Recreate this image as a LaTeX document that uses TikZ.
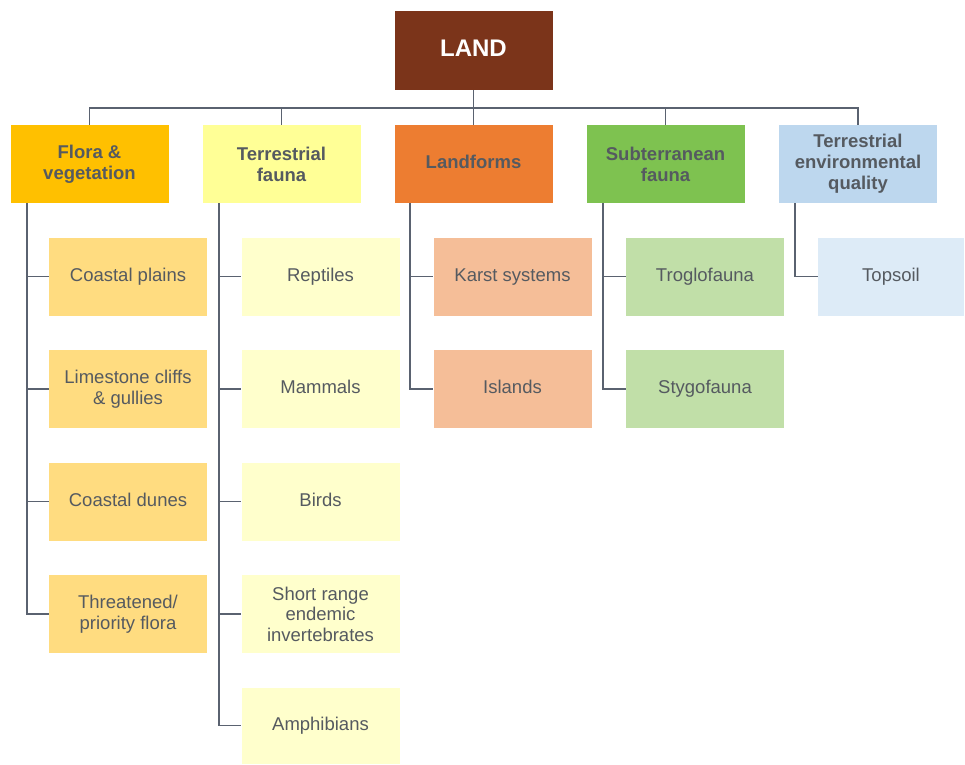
\documentclass[tikz,border=0pt]{standalone}
\usepackage{fontspec}
\setmainfont{Liberation Sans}
\begin{document}
\definecolor{txt}{RGB}{85,90,96}
\definecolor{wire}{RGB}{90,98,112}
\definecolor{landc}{RGB}{123,52,26}
\definecolor{florac}{RGB}{255,192,0}
\definecolor{faunac}{RGB}{255,255,150}
\definecolor{formc}{RGB}{237,125,49}
\definecolor{subc}{RGB}{126,194,80}
\definecolor{envc}{RGB}{189,215,238}
\definecolor{floral}{RGB}{255,220,128}
\definecolor{faunal}{RGB}{255,255,204}
\definecolor{forml}{RGB}{245,190,152}
\definecolor{subl}{RGB}{193,223,168}
\definecolor{envl}{RGB}{221,235,247}
\begin{tikzpicture}[x=1pt,y=-1pt,
  box/.style={draw=none,minimum width=158pt,minimum height=78pt,inner sep=2pt,
    align=center,text=txt,font=\fontsize{18.5}{20.5}\selectfont},
  single/.style={text height=13.5pt,text depth=4pt},
  head/.style={box,font=\fontsize{18.5}{21}\selectfont\bfseries},
  conn/.style={draw=wire,line width=1.7pt}]
\useasboundingbox (0,0) rectangle (965,764);

% root
\node[box,fill=landc,minimum height=79pt,text=white,text height=17.5pt,text depth=5pt,
  font=\fontsize{24}{26}\selectfont\bfseries] (land) at (473.5,50.5) {LAND};

% first level
\node[head,fill=florac] (flora) at (89.5,164) {Flora \&\\vegetation};
\node[head,fill=faunac] (fauna) at (281.5,164) {Terrestrial\\fauna};
\node[head,single,fill=formc] (forms) at (473.5,164) {Landforms};
\node[head,fill=subc] (sub) at (665.5,164) {Subterranean\\fauna};
\node[head,fill=envc] (env) at (858,164) {Terrestrial\\environmental\\quality};

% second level
\node[box,single,fill=floral] (f1) at (128,276.5) {Coastal plains};
\node[box,fill=floral] (f2) at (128,389) {Limestone cliffs\\\& gullies};
\node[box,single,fill=floral] (f3) at (128,501.5) {Coastal dunes};
\node[box,fill=floral] (f4) at (128,614) {Threatened/\\priority flora};

\node[box,single,fill=faunal] (a1) at (320.5,276.5) {Reptiles};
\node[box,single,fill=faunal] (a2) at (320.5,389) {Mammals};
\node[box,single,fill=faunal] (a3) at (320.5,501.5) {Birds};
\node[box,fill=faunal] (a4) at (320.5,614) {Short range\\endemic\\invertebrates};
\node[box,single,fill=faunal,minimum height=76pt] (a5) at (320.5,725.5) {Amphibians};

\node[box,single,fill=forml] (l1) at (512.5,276.5) {Karst systems};
\node[box,single,fill=forml] (l2) at (512.5,389) {Islands};

\node[box,single,fill=subl] (s1) at (705,276.5) {Troglofauna};
\node[box,single,fill=subl] (s2) at (705,389) {Stygofauna};

\node[box,single,fill=envl,minimum width=146pt] (e1) at (891,276.5) {Topsoil};

% bus from the root
\coordinate (bus) at (473.5,108);
\draw[conn] (land.south) -- (forms.north);
\draw[conn] (flora.north) |- (bus) -| (env.north);
\draw[conn] (fauna.north) -- (fauna.north |- bus);
\draw[conn] (sub.north) -- (sub.north |- bus);

% branches
\foreach \c in {f1,f2,f3,f4}
  \draw[conn] ([xshift=17pt]flora.south west) |- (\c.west);
\foreach \c in {a1,a2,a3,a4,a5}
  \draw[conn] ([xshift=17pt]fauna.south west) |- (\c.west);
\foreach \c in {l1,l2}
  \draw[conn] ([xshift=16pt]forms.south west) |- (\c.west);
\foreach \c in {s1,s2}
  \draw[conn] ([xshift=17pt]sub.south west) |- (\c.west);
\draw[conn] ([xshift=16pt]env.south west) |- (e1.west);
\end{tikzpicture}
\end{document}
